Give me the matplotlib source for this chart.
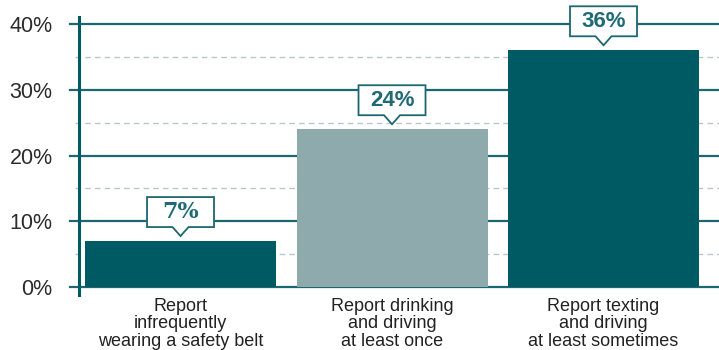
import numpy as np
import matplotlib
matplotlib.use("Agg")
import matplotlib.pyplot as plt
import matplotlib.transforms as mtransforms
from matplotlib.patches import Polygon

categories = ["Report\ninfrequently\nwearing a safety belt",
              "Report drinking\nand driving\nat least once",
              "Report texting\nand driving\nat least sometimes"]
values = [7, 24, 36]
value_labels = ["7%", "24%", "36%"]
label_fonts = ["DejaVu Serif", "Liberation Sans", "Liberation Sans"]
bar_colors = ["#005a64", "#8eaaad", "#005a64"]
yticks = [0, 10, 20, 30, 40]
ytick_labels = ["0%", "10%", "20%", "30%", "40%"]
dashed_levels = [5, 15, 25, 35]

teal = "#005a64"
grid_teal = "#1d6770"
dash_col = "#b7c8cb"

plt.rcParams['font.family'] = ['Liberation Sans', 'DejaVu Sans']

fig = plt.figure(figsize=(7.19, 3.5), dpi=100)
ax = fig.add_axes([79 / 719, 55 / 350, 640 / 719, 278 / 350])

x = np.arange(len(categories))
ax.set_xlim(-0.48, 2.546)
ax.set_ylim(-1.2, 41.06)

# gridlines (solid and dashed) starting a little left of the axis
ytrans = ax.get_yaxis_transform()
for lvl in yticks:
    ax.plot([-0.014, 1], [lvl, lvl], transform=ytrans, color=grid_teal,
            lw=1.6, clip_on=False, zorder=1)
for lvl in dashed_levels:
    ax.plot([-0.007, 1], [lvl, lvl], transform=ytrans, color=dash_col,
            lw=1.0, ls=(0, (4, 3)), clip_on=False, zorder=1)

ax.bar(x, values, width=0.903, color=bar_colors, zorder=2)

# callout boxes above bars
for xi, v, lab, fam in zip(x, values, value_labels, label_fonts):
    trans = fig.dpi_scale_trans + mtransforms.ScaledTranslation(xi, v, ax.transData)
    verts = np.array([(-33.5, 14), (-8, 14), (0, 5), (8, 14), (33.5, 14),
                      (33.5, 44), (-33.5, 44)]) / 100.0
    poly = Polygon(verts, closed=True, facecolor="white", edgecolor=grid_teal,
                   lw=1.3, transform=trans, zorder=4, clip_on=False)
    ax.add_patch(poly)
    ax.text(0, 0.29, lab, transform=trans, ha="center", va="center",
            fontsize=16, fontweight="bold", color="#1f6b73",
            family=[fam], zorder=5)

ax.set_yticks(yticks)
ax.set_yticklabels(ytick_labels, fontsize=15.5, color="#2b2b2b")
ax.tick_params(axis="y", length=0, pad=19)
ax.set_xticks(x)
ax.set_xticklabels(categories, fontsize=13, color="#222222", linespacing=1.05)
ax.tick_params(axis="x", length=0, pad=2)

for s in ["top", "right", "bottom"]:
    ax.spines[s].set_visible(False)
ax.spines["left"].set_color(teal)
ax.spines["left"].set_linewidth(2.2)
ax.spines["left"].set_zorder(3)

fig.savefig("out.png", dpi=100)
